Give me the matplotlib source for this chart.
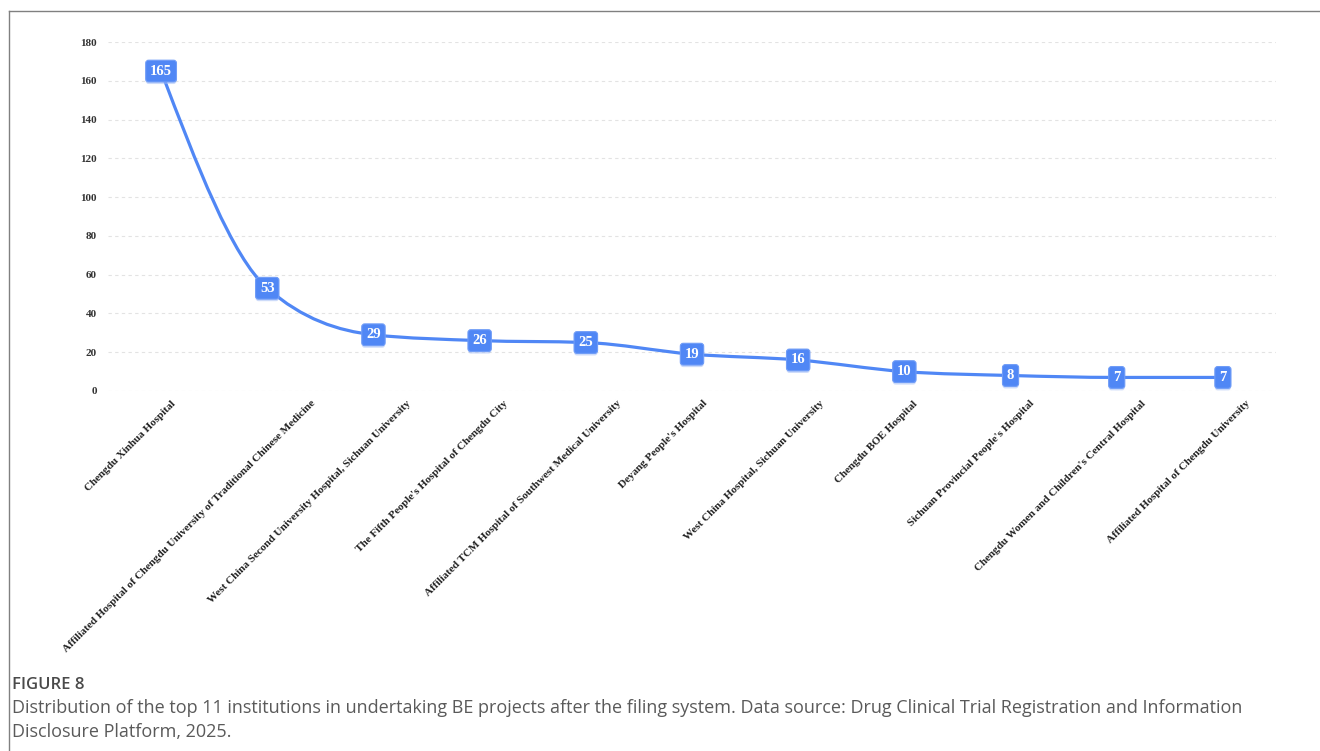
import numpy as np
import matplotlib
matplotlib.use("Agg")
import matplotlib.pyplot as plt
import matplotlib.transforms as mtransforms
import matplotlib.patheffects as pe
from matplotlib.path import Path
from matplotlib.patches import PathPatch
from matplotlib.lines import Line2D

institutions = [
    "Chengdu Xinhua Hospital",
    "Affiliated Hospital of Chengdu University of Traditional Chinese Medicine",
    "West China Second University Hospital, Sichuan University",
    "The Fifth People's Hospital of Chengdu City",
    "Affiliated TCM Hospital of Southwest Medical University",
    "Deyang People's Hospital",
    "West China Hospital, Sichuan University",
    "Chengdu BOE Hospital",
    "Sichuan Provincial People's Hospital",
    "Chengdu Women and Children's Central Hospital",
    "Affiliated Hospital of Chengdu University",
]
projects = [165, 53, 29, 26, 25, 19, 16, 10, 8, 7, 7]
yticks = [0, 20, 40, 60, 80, 100, 120, 140, 160, 180]

line_color = "#5087f5"
serif = ["Liberation Serif", "DejaVu Serif"]

W, H = 1320, 751
fig = plt.figure(figsize=(W / 100, H / 100), dpi=100)
ax = fig.add_axes([108 / W, 1 - 391 / H, (1276 - 108) / W, (391 - 42) / H])

x = np.arange(len(projects), dtype=float)
y = np.array(projects, dtype=float)
n = len(x)

# monotone cubic smoothing (like d3 curveMonotoneX)
t = np.zeros(n)
for i in range(1, n - 1):
    h0, h1 = x[i] - x[i - 1], x[i + 1] - x[i]
    s0, s1 = (y[i] - y[i - 1]) / h0, (y[i + 1] - y[i]) / h1
    p = (s0 * h1 + s1 * h0) / (h0 + h1)
    t[i] = (np.sign(s0) + np.sign(s1)) * min(abs(s0), abs(s1), 0.5 * abs(p))
t[0] = (3 * (y[1] - y[0]) / (x[1] - x[0]) - t[1]) / 2
t[-1] = (3 * (y[-1] - y[-2]) / (x[-1] - x[-2]) - t[-2]) / 2

verts = [(x[0], y[0])]
codes = [Path.MOVETO]
for i in range(n - 1):
    dx = (x[i + 1] - x[i]) / 3
    verts += [(x[i] + dx, y[i] + dx * t[i]), (x[i + 1] - dx, y[i + 1] - dx * t[i + 1]),
              (x[i + 1], y[i + 1])]
    codes += [Path.CURVE4] * 3
ax.add_patch(PathPatch(Path(verts, codes), fill=False, edgecolor=line_color, lw=2.3,
                       zorder=3, capstyle="round", joinstyle="round"))

for xi, yi in zip(x, projects):
    txt = ax.text(xi, yi, str(yi), ha="center", va="center", color="white", fontsize=10.5,
                  fontweight="bold", family=serif, zorder=5,
                  bbox=dict(boxstyle="round,pad=0.3,rounding_size=0.2", fc=line_color,
                            ec="#6f9cf7", lw=0.8))
    txt.get_bbox_patch().set_path_effects(
        [pe.SimplePatchShadow(offset=(0, -1.5), shadow_rgbFace="#9db8f5", alpha=0.5),
         pe.Normal()])

ax.set_xlim(-0.5, 10.5)
ax.set_ylim(0, 180)
ax.set_yticks(yticks)
ax.set_yticklabels([str(v) for v in yticks], family=serif, fontweight="bold",
                   fontsize=8, color="#333333")
ax.set_xticks(x)
ax.set_xticklabels([])
ax.tick_params(axis="both", length=0)
ax.tick_params(axis="y", pad=8)
ax.grid(axis="y", color="#e3e3e3", ls=(0, (3, 3)), lw=0.8)
for sp in ax.spines.values():
    sp.set_visible(False)

# rotated category labels; longer names sit a bit further right, as in the original
trans = mtransforms.blended_transform_factory(ax.transData, ax.transAxes)
for xi, name in zip(x, institutions):
    ax.annotate(name, xy=(xi, 0), xycoords=trans,
                xytext=(0.65 * len(name) - 4.5, -8), textcoords="offset pixels",
                rotation=45, ha="right", va="top", rotation_mode="anchor",
                family=serif, fontweight="bold", fontsize=8, color="#222222")

# frame around the chart
fig.add_artist(Line2D([9 / W, 9 / W], [0, 1 - 11 / H], transform=fig.transFigure,
                      color="#808080", lw=1))
fig.add_artist(Line2D([9 / W, 1], [1 - 11 / H, 1 - 11 / H], transform=fig.transFigure,
                      color="#808080", lw=1))

fig.text(12 / W, 1 - 685 / H, "FIGURE 8", family="Open Sans", fontsize=12,
         fontweight="semibold", color="#4a4a4a", va="center", ha="left")
fig.text(12 / W, 1 - 708 / H,
         "Distribution of the top 11 institutions in undertaking BE projects after the filing system. "
         "Data source: Drug Clinical Trial Registration and Information",
         family="Open Sans", fontsize=13, color="#5a5a5a", va="center", ha="left")
fig.text(12 / W, 1 - 732 / H, "Disclosure Platform, 2025.",
         family="Open Sans", fontsize=13, color="#5a5a5a", va="center", ha="left")

fig.savefig("out.png", dpi=100)
